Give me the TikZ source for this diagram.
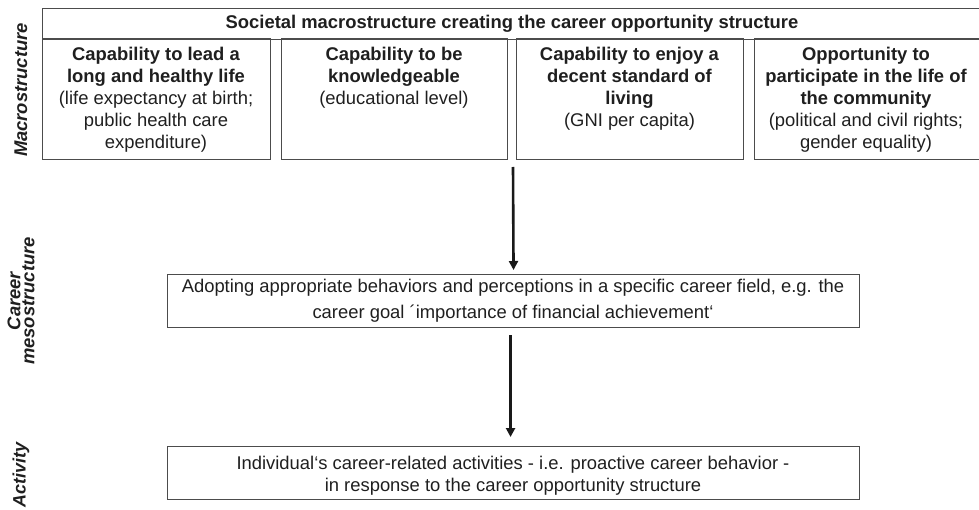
\documentclass[tikz,border=0pt]{standalone}
\usepackage{fontspec}
\setmainfont{Liberation Sans}
\usetikzlibrary{arrows.meta,calc}
\begin{document}
\begin{tikzpicture}[x=1pt,y=-1pt,
  frame/.style={draw=black!70,line width=1.1pt,inner sep=0pt,anchor=north west},
  boxtext/.style={anchor=north,align=center,inner sep=0pt,font=\fontsize{18.4}{22}\selectfont,text=black!88},
  sidelabel/.style={rotate=90,align=center,inner sep=0pt,font=\fontsize{18.4}{14}\selectfont\bfseries\itshape,text=black!88},
  flow/.style={line width=2.6pt,-{Triangle[length=9pt,width=9pt]},black!90}]
\useasboundingbox (0,0) rectangle (979,510);
% header
\node[frame,minimum width=945pt,minimum height=31pt] (head) at (42,8) {};
\node[boxtext,font=\fontsize{18.4}{22}\selectfont\bfseries,anchor=center] (headt) at (512,23.5) {Societal macrostructure creating the career opportunity structure};
% four boxes
\node[frame,minimum width=228pt,minimum height=121pt] (b1) at (42,38) {};
\node[frame,minimum width=226pt,minimum height=121pt] (b2) at (281,38) {};
\node[frame,minimum width=227pt,minimum height=121pt] (b3) at (516,38) {};
\node[frame,minimum width=240pt,minimum height=121pt] (b4) at (754,38) {};
\node[boxtext] (t1) at (156,47) {\textbf{Capability to lead a}\\\textbf{long and healthy life}\\(life expectancy at birth;\\public health care\\expenditure)};
\node[boxtext] (t2) at (394,47) {\textbf{Capability to be}\\\textbf{knowledgeable}\\(educational level)};
\node[boxtext] (t3) at (629.5,47) {\textbf{Capability to enjoy a}\\\textbf{decent standard of}\\\textbf{living}\\(GNI per capita)};
\node[boxtext] (t4) at (866,47) {\textbf{Opportunity to}\\\textbf{participate in the life of}\\\textbf{the community}\\(political and civil rights;\\gender equality)};
% middle and bottom boxes
\node[frame,minimum width=692pt,minimum height=53pt] (mid) at (167,274) {};
\node[boxtext,anchor=center,font=\fontsize{18.4}{26}\selectfont] (midt) at (513,301) {Adopting appropriate behaviors and perceptions in a specific career field, e.g. the\\career goal ´importance of financial achievement‘};
\node[frame,minimum width=692pt,minimum height=53pt] (act) at (167,446) {};
\node[boxtext,anchor=center,font=\fontsize{18.4}{22}\selectfont] (actt) at (513,476) {Individual‘s career-related activities - i.e. proactive career behavior -\\in response to the career opportunity structure};
% arrows
\coordinate (a1s) at (513,167);
\draw[flow,shorten >=4pt] (a1s) -- (mid.north);
\draw[flow,shorten <=7pt,shorten >=9pt] ([xshift=-3pt]mid.south) -- ([xshift=-3pt]act.north);
% side labels
\node[sidelabel] (l1) at (21,90) {Macrostructure};
\node[sidelabel] (l2) at (21,301) {Career\\mesostructure};
\node[sidelabel,font=\fontsize{18}{14}\selectfont\bfseries\itshape] (l3) at (21,475) {Activity};
\end{tikzpicture}
\end{document}
